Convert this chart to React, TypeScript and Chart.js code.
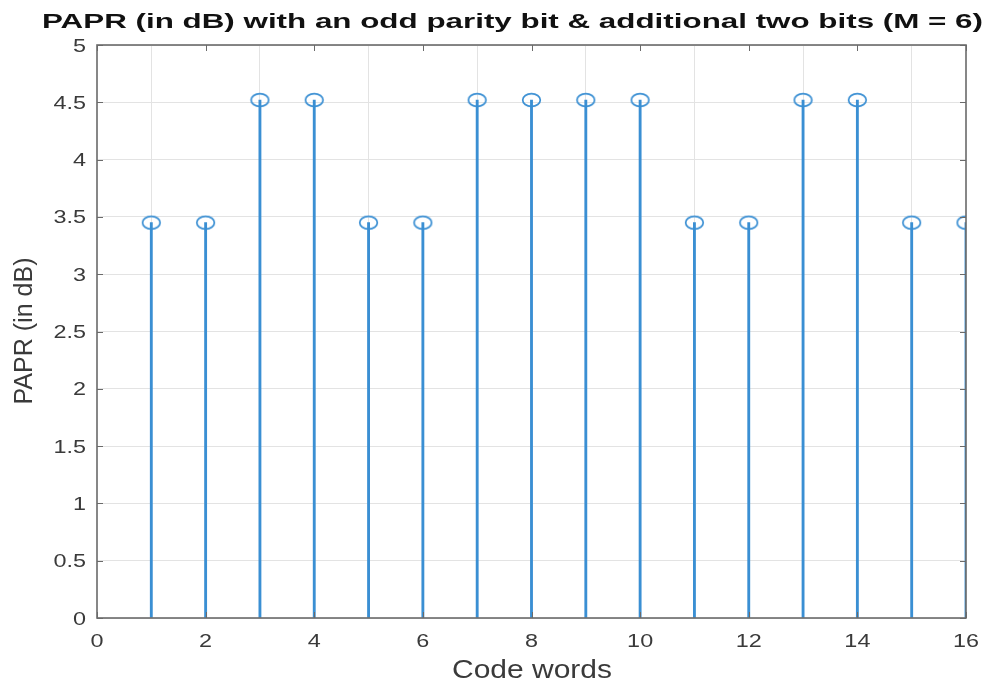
import React, { useEffect, useRef } from "react";
import { Chart, registerables } from "chart.js";

Chart.register(...registerables);

// Code word indices and their PAPR values (dB)
const codeWords = [1, 2, 3, 4, 5, 6, 7, 8, 9, 10, 11, 12, 13, 14, 15, 16];
const paprValues = [
  3.45, 3.45, 4.52, 4.52, 3.45, 3.45, 4.52, 4.52,
  4.52, 4.52, 3.45, 3.45, 4.52, 4.52, 3.45, 3.45,
];
const xTicks = [0, 2, 4, 6, 8, 10, 12, 14, 16];
const yTicks = [0, 0.5, 1, 1.5, 2, 2.5, 3, 3.5, 4, 4.5, 5];

const titleText = "PAPR (in dB) with an odd parity bit & additional two bits (M = 6)";
const xLabel = "Code words";
const yLabel = "PAPR (in dB)";

const STEM = "#3a8fd3";
const AXIS = "#6a6a6a";
const TEXT = "#3a3a3a";
const FONT = "'Liberation Sans', Arial, sans-serif";
const WIDE = 1.3; // horizontal stretch of the axis text

// Draw text squeezed/stretched horizontally around its anchor
function wideText(
  ctx: CanvasRenderingContext2D,
  text: string,
  x: number,
  y: number,
  sx: number,
  align: CanvasTextAlign
) {
  ctx.save();
  ctx.translate(x, y);
  ctx.scale(sx, 1);
  ctx.textAlign = align;
  ctx.textBaseline = "alphabetic";
  ctx.fillText(text, 0, 0);
  ctx.restore();
}

function fmt(v: number) {
  return Number.isInteger(v) ? String(v) : v.toFixed(1);
}

// Box outline, inward tick marks, tick labels and axis titles
const framePlugin = {
  id: "frame",
  afterDraw(chart: any) {
    const { ctx, chartArea: a, scales } = chart;
    const x = scales.x;
    const y = scales.y;
    ctx.save();
    ctx.strokeStyle = AXIS;
    ctx.lineWidth = 1.6;
    ctx.strokeRect(a.left, a.top, a.right - a.left, a.bottom - a.top);
    ctx.lineWidth = 1;
    const tl = 6;
    ctx.beginPath();
    for (const v of xTicks) {
      const px = Math.round(x.getPixelForValue(v)) + 0.5;
      ctx.moveTo(px, a.bottom);
      ctx.lineTo(px, a.bottom - tl);
      ctx.moveTo(px, a.top);
      ctx.lineTo(px, a.top + tl);
    }
    for (const v of yTicks) {
      const py = Math.round(y.getPixelForValue(v)) + 0.5;
      ctx.moveTo(a.left, py);
      ctx.lineTo(a.left + tl, py);
      ctx.moveTo(a.right, py);
      ctx.lineTo(a.right - tl, py);
    }
    ctx.stroke();

    // tick labels
    ctx.fillStyle = TEXT;
    ctx.font = `18px ${FONT}`;
    for (const v of xTicks) {
      wideText(ctx, fmt(v), x.getPixelForValue(v), a.bottom + 29, WIDE, "center");
    }
    for (const v of yTicks) {
      wideText(ctx, fmt(v), a.left - 11, y.getPixelForValue(v) + 6.5, WIDE, "right");
    }

    // title
    ctx.fillStyle = "#111111";
    ctx.font = `bold 21px ${FONT}`;
    const tw = ctx.measureText(titleText).width;
    wideText(ctx, titleText, 512.5, 28, 941 / tw, "center");

    // axis titles
    ctx.fillStyle = TEXT;
    ctx.font = `25px ${FONT}`;
    const xw = ctx.measureText(xLabel).width;
    wideText(ctx, xLabel, 532, 678, 160 / xw, "center");

    const yw = ctx.measureText(yLabel).width;
    ctx.translate(32, 331);
    ctx.rotate(-Math.PI / 2);
    wideText(ctx, yLabel, 0, 0, 147 / yw, "center");
    ctx.restore();
  },
};

// Open elliptical stem-head marker
function makeMarker(): HTMLCanvasElement {
  const c = document.createElement("canvas");
  c.width = 21;
  c.height = 16;
  const g = c.getContext("2d")!;
  g.strokeStyle = STEM;
  g.lineWidth = 1.7;
  g.beginPath();
  g.ellipse(10.5, 8, 8.8, 6.4, 0, 0, Math.PI * 2);
  g.stroke();
  return c;
}

export default function App() {
  const ref = useRef<HTMLCanvasElement>(null);

  useEffect(() => {
    if (!ref.current) return;
    const points = codeWords.map((c, i) => ({ x: c, y: paprValues[i] }));
    const marker = makeMarker();
    const chart = new Chart(ref.current, {
      type: "bar",
      data: {
        datasets: [
          {
            type: "scatter",
            data: points,
            pointStyle: marker,
            pointRadius: 8,
            order: 0,
          } as any,
          {
            type: "bar",
            data: points,
            backgroundColor: STEM,
            barThickness: 2.2,
            order: 1,
          },
        ],
      },
      options: {
        animation: false,
        responsive: false,
        maintainAspectRatio: false,
        layout: { padding: { top: 45, right: 22, left: 0, bottom: 0 } },
        plugins: {
          legend: { display: false },
          title: { display: false },
          tooltip: { enabled: false },
        },
        scales: {
          x: {
            type: "linear",
            min: 0,
            max: 16,
            offset: false,
            afterBuildTicks(s: any) {
              s.ticks = xTicks.map((v) => ({ value: v }));
            },
            afterFit(s: any) {
              s.height = 67;
            },
            grid: { color: "#e3e3e3", lineWidth: 1, drawTicks: false },
            border: { display: false },
            ticks: { display: false },
          },
          y: {
            type: "linear",
            min: 0,
            max: 5,
            afterBuildTicks(s: any) {
              s.ticks = yTicks.map((v) => ({ value: v }));
            },
            afterFit(s: any) {
              s.width = 97;
            },
            grid: { color: "#e3e3e3", lineWidth: 1, drawTicks: false },
            border: { display: false },
            ticks: { display: false },
          },
        },
      },
      plugins: [framePlugin],
    });
    return () => chart.destroy();
  }, []);

  return (
    <div style={{ position: "absolute", left: 0, top: 0, width: 988, height: 685, background: "#fff" }}>
      <canvas ref={ref} width={988} height={685} />
    </div>
  );
}
